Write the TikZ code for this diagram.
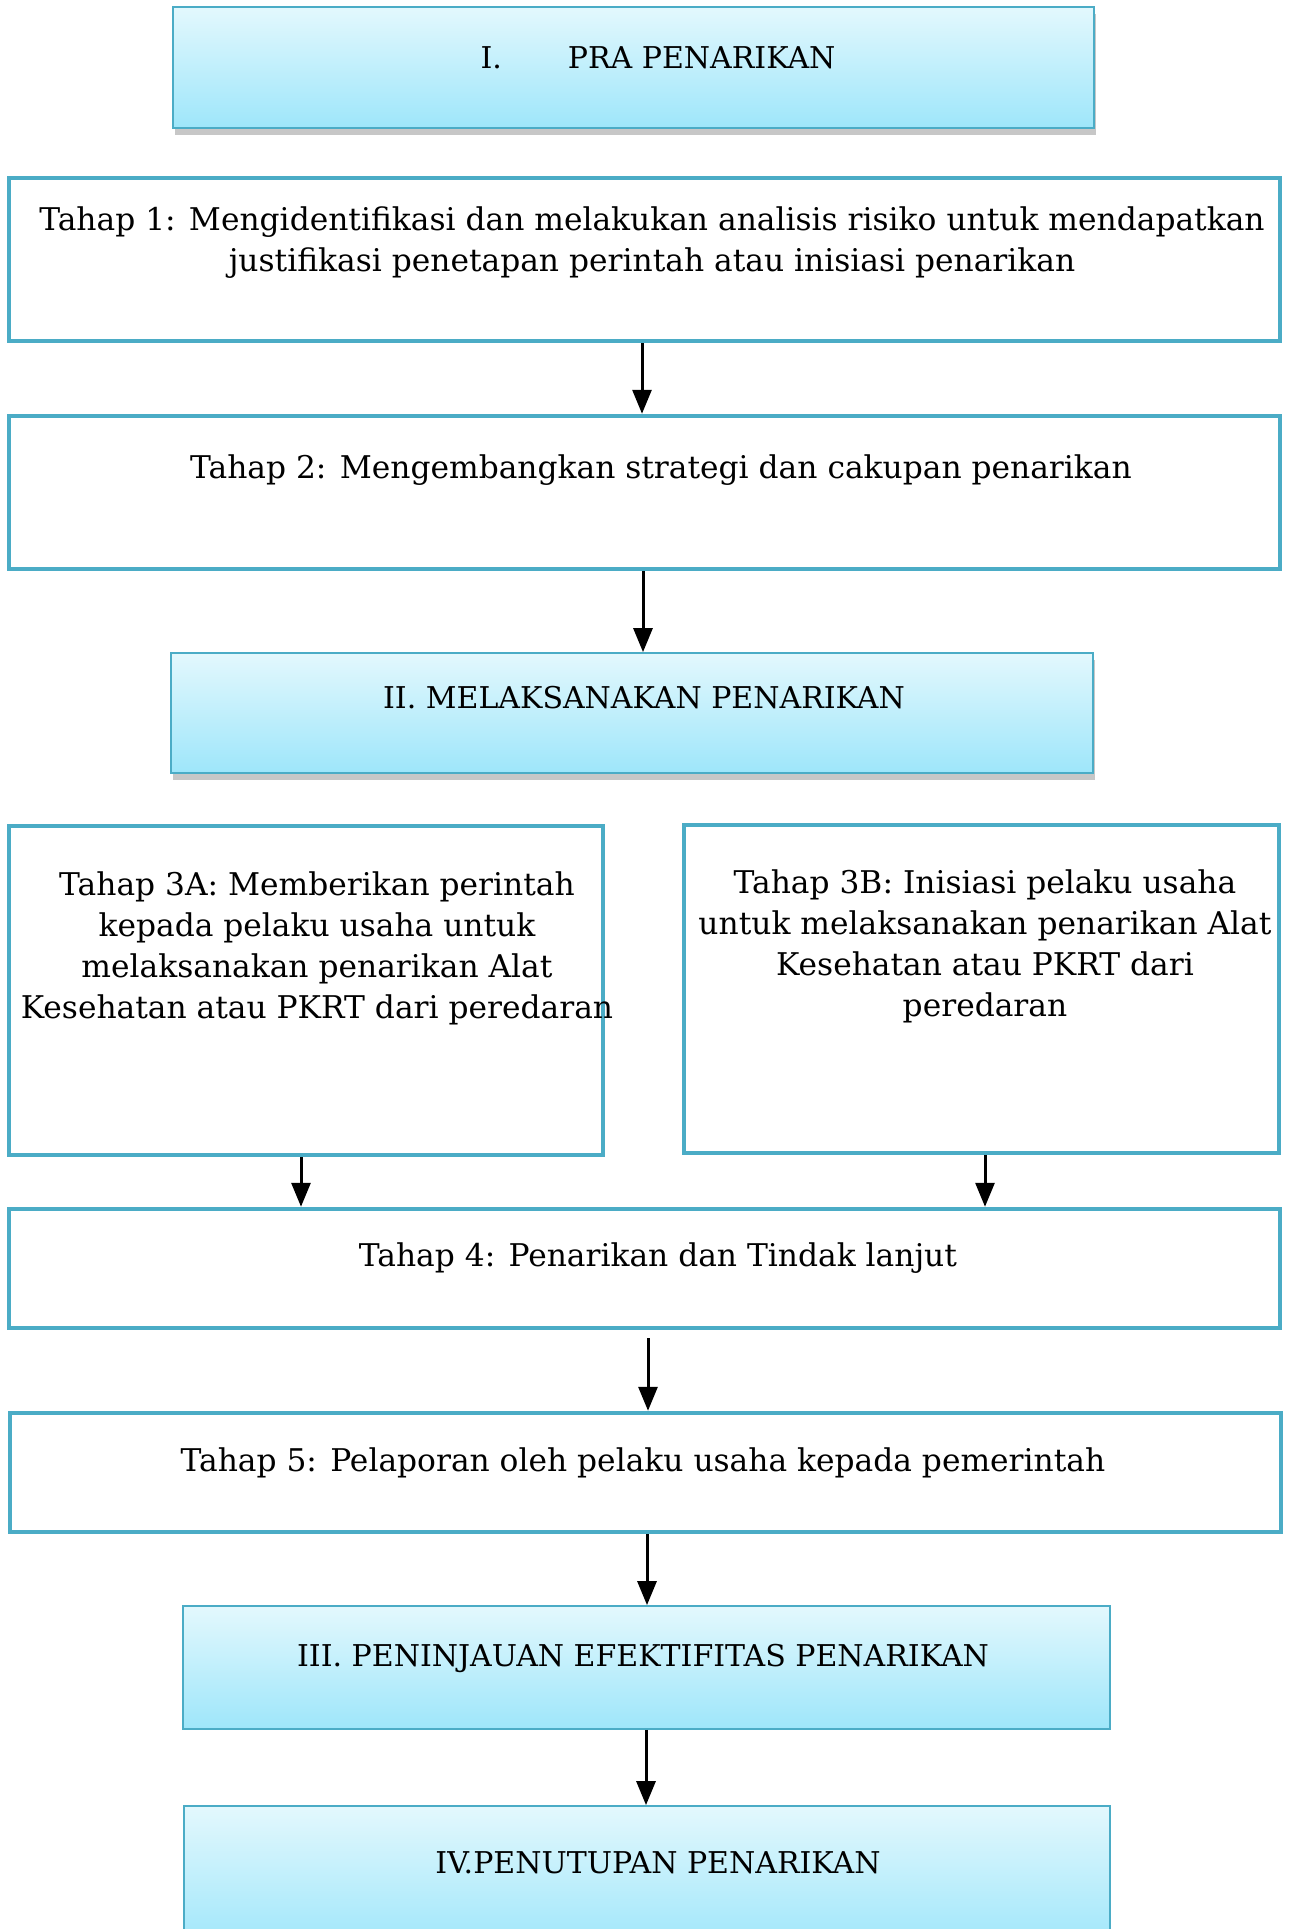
\documentclass[tikz,border=0pt]{standalone}
\usepackage{fontspec}
\setmainfont{DejaVu Serif}
\usetikzlibrary{arrows.meta,shadows,calc}
\definecolor{teal}{HTML}{4BACC6}
\definecolor{lightc}{HTML}{E3F8FD}
\definecolor{darkc}{HTML}{9EE6FA}
\tikzset{
  body/.style={draw=teal, line width=4.5pt, fill=white, inner sep=0pt},
  title/.style={draw=teal, line width=1.8pt, top color=lightc, bottom color=darkc, inner sep=0pt},
  shadowed/.style={drop shadow={shadow xshift=2pt, shadow yshift=-7pt, fill=black!40, opacity=0.55}},
  txt/.style={align=center, font=\fontsize{31.3}{41}\selectfont, inner sep=0pt, text=black},
  ttxt/.style={align=center, font=\fontsize{30}{41}\selectfont, inner sep=0pt, text=black},
  arr/.style={line width=3pt, -{Triangle[length=24pt,width=19pt]}}
}
\begin{document}
\begin{tikzpicture}[x=1pt,y=-1pt]
\useasboundingbox (0,0) rectangle (1290,1929);
\clip (0,0) rectangle (1290,1929);
% boxes
\node[title, shadowed, minimum width=921pt, minimum height=121pt] (b1) at (633.5,67.5) {};
\node[body, minimum width=1271pt, minimum height=163pt] (t1) at (644.5,259.5) {};
\node[body, minimum width=1271pt, minimum height=153pt] (t2) at (644.5,492.5) {};
\node[title, shadowed, minimum width=922pt, minimum height=120pt] (b2) at (632,713) {};
\node[body, minimum width=594pt, minimum height=329pt] (t3a) at (306,990.5) {};
\node[body, minimum width=595pt, minimum height=328pt] (t3b) at (981.5,989) {};
\node[body, minimum width=1271pt, minimum height=119pt] (t4) at (644.5,1268.5) {};
\node[body, minimum width=1271pt, minimum height=119pt] (t5) at (645.5,1472.5) {};
\node[title, minimum width=927pt, minimum height=123pt] (b3) at (646.5,1667.5) {};
\node[title, minimum width=926pt, minimum height=144pt] (b4) at (647,1878) {};
% texts
\node[ttxt] (l1) at (658,58) {I.\hspace{66pt}PRA PENARIKAN};
\node[txt, anchor=base] (l2) at (652,271) {Tahap 1: Mengidentifikasi dan melakukan analisis risiko untuk mendapatkan\\justifikasi penetapan perintah atau inisiasi penarikan};
\node[txt] (l3) at (661,470) {Tahap 2: Mengembangkan strategi dan cakupan penarikan};
\node[ttxt] (l4) at (644,698) {II. MELAKSANAKAN PENARIKAN};
\node[txt, anchor=base] (l5) at (317,1018) {Tahap 3A: Memberikan perintah\\kepada pelaku usaha untuk\\melaksanakan penarikan Alat\\Kesehatan atau PKRT dari peredaran};
\node[txt, anchor=base] (l6) at (985,1016) {Tahap 3B: Inisiasi pelaku usaha\\untuk melaksanakan penarikan Alat\\Kesehatan atau PKRT dari\\peredaran};
\node[txt] (l7) at (658,1258) {Tahap 4: Penarikan dan Tindak lanjut};
\node[txt] (l8) at (643,1463) {Tahap 5: Pelaporan oleh pelaku usaha kepada pemerintah};
\node[ttxt] (l9) at (643,1658) {III. PENINJAUAN EFEKTIFITAS PENARIKAN};
\node[ttxt] (l10) at (658,1863) {IV.PENUTUPAN PENARIKAN};
% arrows
\draw[arr] (t1.south -| 642,0) -- (t2.north -| 642,0);
\draw[arr] (t2.south -| 643,0) -- (b2.north -| 643,0);
\draw[arr] (t3a.south -| 301,0) -- (t4.north -| 301,0);
\draw[arr] (t3b.south -| 985,0) -- (t4.north -| 985,0);
\draw[arr] ($(t4.south -| 648,0)+(0,8)$) -- (t5.north -| 648,0);
\draw[arr] (t5.south -| 647,0) -- (b3.north -| 647,0);
\draw[arr] (b3.south -| 646,0) -- (b4.north -| 646,0);
\end{tikzpicture}
\end{document}
